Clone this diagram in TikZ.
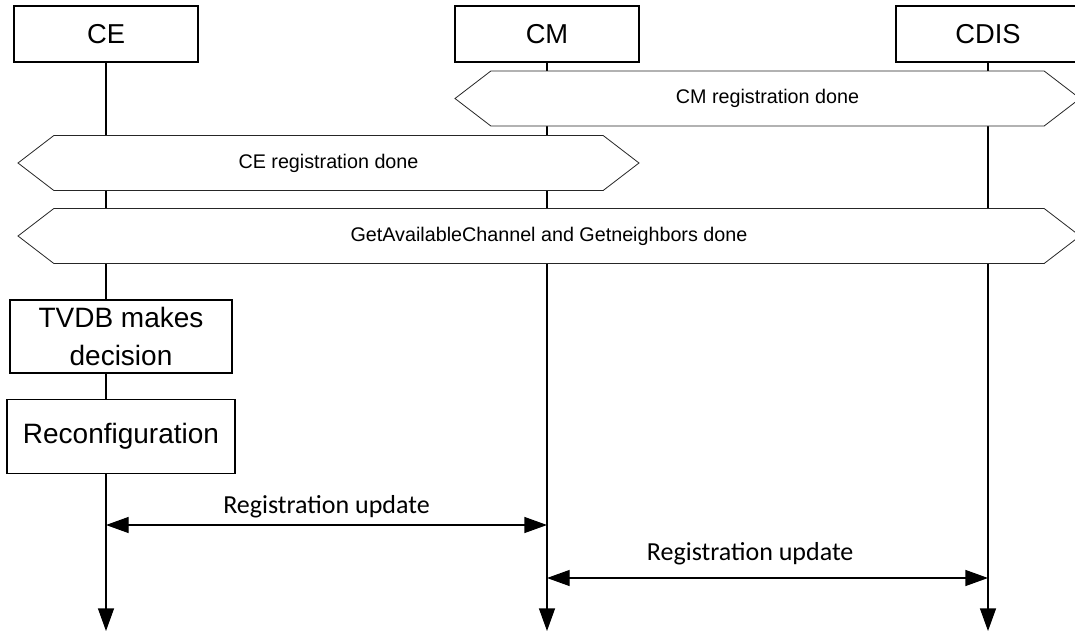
\documentclass[tikz,border=0pt]{standalone}
\usepackage{fontspec}
\setmainfont{Liberation Sans}
\newfontfamily\calfont{Carlito}
\usetikzlibrary{arrows.meta,shapes.symbols}
\tikzset{
  entity/.style={draw, fill=white, line width=0.8pt, minimum width=138pt, minimum height=42pt, font=\fontsize{20.5}{24}\selectfont},
  procbox/.style={draw, fill=white, line width=0.8pt, align=center, font=\fontsize{21}{29}\selectfont},
  donebar/.style={signal, signal to=west and east, signal pointer angle=75, draw=black!85, fill=white, line width=0.6pt, minimum height=41.25pt, inner sep=0pt, font=\fontsize{14.8}{16}\selectfont},
  life/.style={line width=1pt, -{Triangle[length=17pt,width=12pt]}},
  msg/.style={line width=1pt, {Triangle[length=17pt,width=12pt]}-{Triangle[length=17pt,width=12pt]}},
  msglabel/.style={font=\calfont\fontsize{19.5}{22}\selectfont, anchor=base, inner sep=0pt}
}
\begin{document}
\begin{tikzpicture}[x=0.75pt, y=-0.75pt]
\useasboundingbox (0,0) rectangle (1075,632);
% entities
\node[entity] (ce) at (106,34) {CE};
\node[entity] (cm) at (547,34) {CM};
\node[entity] (cdis) at (988,34) {CDIS};
\coordinate (ceend) at (106,631);
\coordinate (cmend) at (547,631);
\coordinate (cdisend) at (988,631);
\draw[life] (ce) -- (ceend);
\draw[life] (cm) -- (cmend);
\draw[life] (cdis) -- (cdisend);
% shared states
\node[donebar, minimum width=468.75pt] (cmreg) at (767.5,98.5) {CM registration done};
\node[donebar, minimum width=465.75pt] (cereg) at (328.5,163) {CE registration done};
\node[donebar, minimum width=796.5pt] (getch) at (549,236) {GetAvailableChannel and Getneighbors done};
% local actions
\node[procbox, minimum width=166.5pt, minimum height=54.75pt] (tvdb) at (121,336.5) {TVDB makes\\decision};
\node[procbox, minimum width=171pt, minimum height=55pt] (reconf) at (121,436.5) {Reconfiguration};
% messages
\draw[msg] (ce |- 0,525) -- node[msglabel, yshift=8.5pt] (upd1) {Registration update} (cm |- 0,525);
\draw[msg] (cm |- 0,578) -- node[msglabel, yshift=13.5pt, xshift=-13pt] (upd2) {Registration update} (cdis |- 0,578);
\end{tikzpicture}
\end{document}
